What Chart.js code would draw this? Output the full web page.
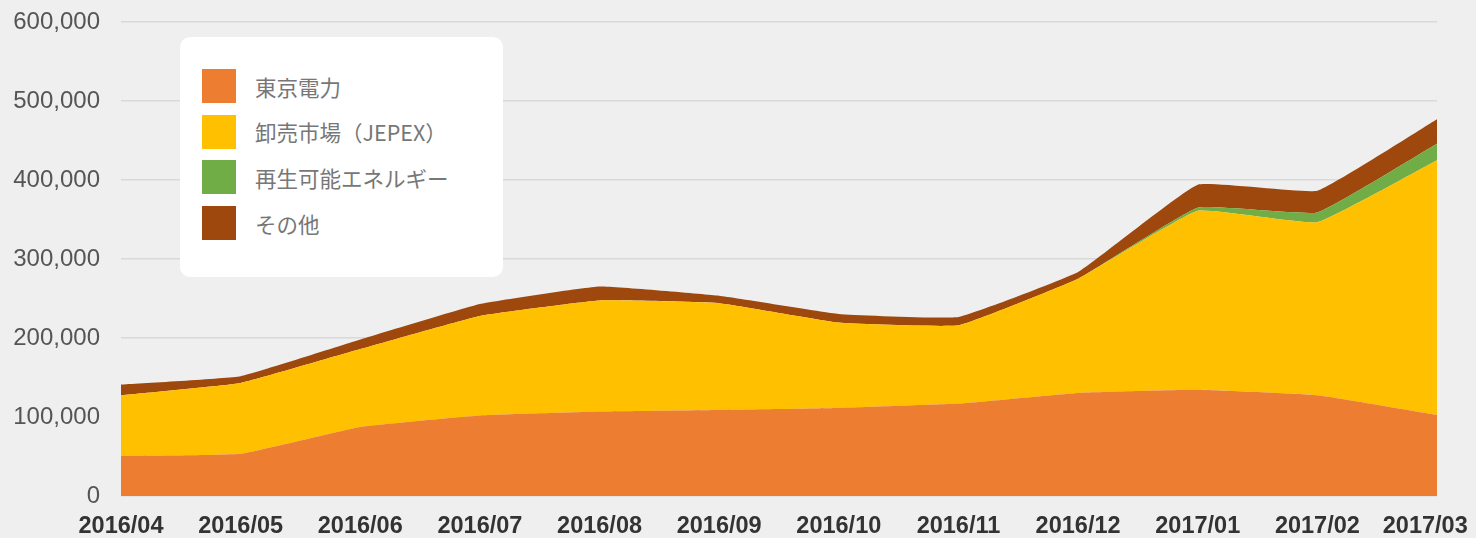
<!DOCTYPE html>
<html>
<head>
<meta charset="utf-8">
<script src="https://cdn.jsdelivr.net/npm/chart.js@4/dist/chart.umd.min.js"></script>
<style>
  html, body { margin: 0; padding: 0; background: #efefef; }
  #wrap { position: relative; width: 1476px; height: 538px; background: #efefef; }
  #legend {
    position: absolute; left: 180px; top: 37px; width: 323px; height: 240px;
    background: #ffffff; border-radius: 10px; box-sizing: border-box;
  }
  .item { position: absolute; left: 22px; height: 34px; display: flex; align-items: center; }
  .sw { width: 34px; height: 34px; margin-right: 19px; }
  .lb { font-family: "Noto Sans CJK JP", "Noto Sans", sans-serif; font-size: 21.5px; color: #777; white-space: nowrap; }
</style>
</head>
<body>
<div id="wrap">
  <canvas id="c"></canvas>
  <div id="legend"></div>
</div>
<script>
const categories = ["2016/04","2016/05","2016/06","2016/07","2016/08","2016/09","2016/10","2016/11","2016/12","2017/01","2017/02","2017/03"];
const seriesNames = ["東京電力", "卸売市場（JEPEX）", "再生可能エネルギー", "その他"];
const tepco     = [50500, 53500, 87500, 102000, 107000, 109000, 111500, 117000, 130500, 134500, 127500, 102500];
const jepex     = [77000, 89600, 98500, 126000, 140500, 135000, 108000, 99000, 144500, 226500, 219000, 322500];
const renewable = [0, 0, 0, 0, 0, 0, 0, 0, 0, 4000, 12500, 21000];
const other     = [13500, 8500, 12000, 15000, 17700, 9500, 11000, 10500, 8500, 29000, 27500, 31000];
const yTicks    = [0, 100000, 200000, 300000, 400000, 500000, 600000];

const colors = ["#ED7D31", "#FFC000", "#70AD47", "#9E480E"];
const values = [tepco, jepex, renewable, other];

const datasets = values.map((v, i) => ({
  label: seriesNames[i],
  data: v,
  backgroundColor: colors[i],
  borderColor: colors[i],
  borderWidth: 0,
  pointRadius: 0,
  pointHoverRadius: 0,
  tension: 0.1,
  fill: i === 0 ? 'origin' : '-1'
}));

const chart = new Chart(document.getElementById('c'), {
  type: 'line',
  data: { labels: categories, datasets },
  options: {
    responsive: true,
    maintainAspectRatio: false,
    animation: false,
    layout: { padding: { left: 0, right: 39, top: 22, bottom: 0 } },
    plugins: { legend: { display: false }, tooltip: { enabled: false } },
    scales: {
      x: {
        offset: false,
        grid: { display: false, drawTicks: false },
        border: { display: false },
        ticks: {
          padding: 16, maxRotation: 0, autoSkip: false, color: '#333',
          font: { family: 'Liberation Sans, Arial, sans-serif', size: 23.5, weight: 'bold' },
          // keep the last label inside the canvas (shifted left, as in the original)
          callback: (v, i) => i === categories.length - 1 ? categories[i] + '\u2002\u2002' : categories[i]
        },
        afterFit: s => { s.height = 42; s.paddingLeft = 0; s.paddingRight = 0; }
      },
      y: {
        stacked: true,
        min: 0, max: 600000,
        afterBuildTicks: s => { s.ticks = yTicks.map(v => ({ value: v })); },
        grid: { color: '#d9d9d9', lineWidth: 1.5, drawTicks: false },
        border: { display: false },
        ticks: {
          padding: 21, color: '#555',
          font: { family: 'Liberation Sans, Arial, sans-serif', size: 24 },
          callback: v => v.toLocaleString('en-US')
        },
        afterFit: s => { s.width = 121; s.paddingTop = 0; s.paddingBottom = 0; }
      }
    }
  }
});

// HTML legend built from the chart's datasets
const leg = document.getElementById('legend');
chart.data.datasets.forEach((d, i) => {
  const it = document.createElement('div');
  it.className = 'item';
  it.style.top = (32 + i * 45.7) + 'px';
  const sw = document.createElement('div');
  sw.className = 'sw';
  sw.style.background = d.backgroundColor;
  const lb = document.createElement('span');
  lb.className = 'lb';
  lb.textContent = d.label;
  it.appendChild(sw); it.appendChild(lb);
  leg.appendChild(it);
});
</script>
</body>
</html>
